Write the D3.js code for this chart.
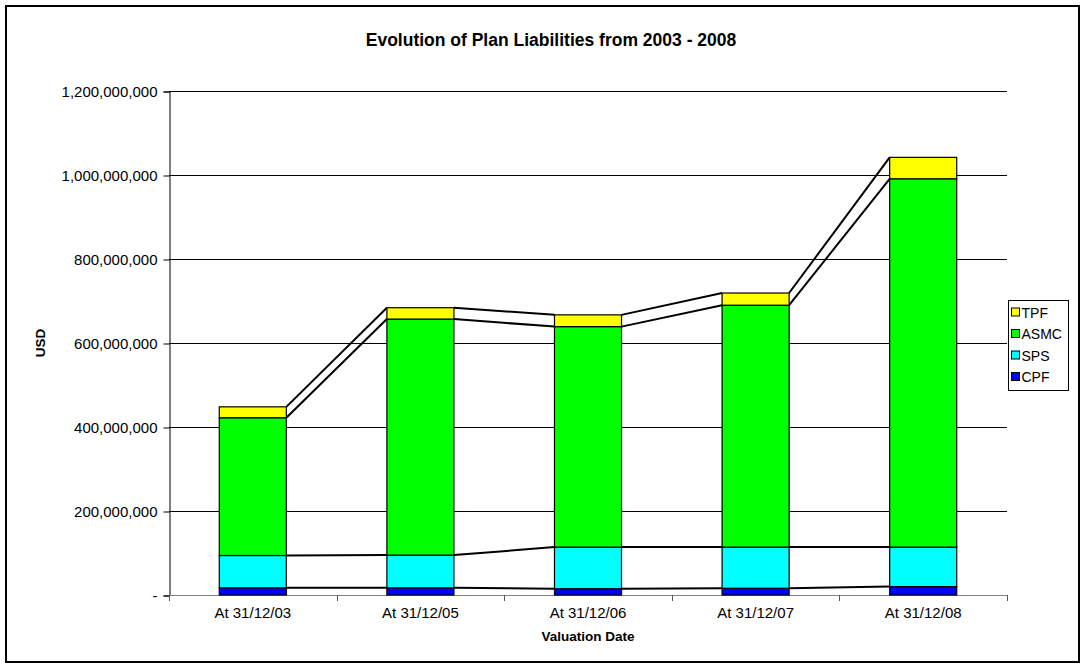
<!DOCTYPE html>
<html>
<head>
<meta charset="utf-8">
<script src="https://cdn.jsdelivr.net/npm/d3@7"></script>
<style>
body { margin: 0; background: #fff; }
text { font-family: 'Liberation Sans', Arial, sans-serif; }
</style>
</head>
<body>
<script>
// values in USD
var categories = ['At 31/12/03', 'At 31/12/05', 'At 31/12/06', 'At 31/12/07', 'At 31/12/08'];
var cpf  = [17e6, 17e6, 15e6, 16e6, 20e6];
var sps  = [77e6, 78e6, 99e6, 98e6, 94e6];
var asmc = [328e6, 562e6, 525e6, 576e6, 877e6];
var tpf  = [26e6, 27e6, 28e6, 29e6, 51e6];
var yTicks = [0, 200e6, 400e6, 600e6, 800e6, 1000e6, 1200e6];

var seriesNames = ['CPF', 'SPS', 'ASMC', 'TPF'];
var colors = {CPF: '#0000ff', SPS: '#00ffff', ASMC: '#00ff00', TPF: '#ffff00'};

var width = 1086, height = 670;
var plot = {left: 169, right: 1007, top: 91, bottom: 595};

var svg = d3.select('body').append('svg')
	.attr('width', width)
	.attr('height', height);

// outer frame
svg.append('rect')
	.attr('x', 6).attr('y', 6)
	.attr('width', 1073).attr('height', 656)
	.attr('fill', '#fff')
	.attr('stroke', '#000')
	.attr('stroke-width', 2);

var rows = categories.map((c, i) => ({key: c, CPF: cpf[i], SPS: sps[i], ASMC: asmc[i], TPF: tpf[i]}));
var stacked = d3.stack().keys(seriesNames)(rows);

var x = d3.scaleBand()
	.domain(categories)
	.range([plot.left, plot.right])
	.paddingInner(0.6)
	.paddingOuter(0.3);

var y = d3.scaleLinear()
	.domain([0, 1200e6])
	.range([plot.bottom, plot.top]);

// gridlines
svg.append('g')
	.selectAll('line')
	.data(yTicks.filter(d => d > 0))
	.enter().append('line')
	.attr('x1', plot.left).attr('x2', plot.right)
	.attr('y1', d => Math.round(y(d)) + 0.5)
	.attr('y2', d => Math.round(y(d)) + 0.5)
	.attr('stroke', '#000')
	.attr('stroke-width', 1);

// y axis
var yAxis = d3.axisLeft(y)
	.tickValues(yTicks)
	.tickSize(6)
	.tickPadding(6)
	.tickFormat(d => d === 0 ? '-' : d3.format(',')(d));

var gy = svg.append('g')
	.attr('transform', `translate(${plot.left + 0.5}, 0.5)`)
	.call(yAxis);
gy.select('.domain').attr('stroke', '#000');
gy.selectAll('.tick line').attr('stroke', '#000');
gy.selectAll('text')
	.attr('font-size', 15)
	.attr('fill', '#000')
	.style('font-family', "'Liberation Sans', Arial, sans-serif");

// x axis (labels only, ticks between categories)
var xAxis = d3.axisBottom(x).tickSize(0).tickPadding(12);
var gx = svg.append('g')
	.attr('transform', `translate(0, ${plot.bottom + 0.5})`)
	.call(xAxis);
gx.select('.domain').attr('stroke', '#808080').attr('d', `M${plot.left},0H${plot.right}`);
gx.selectAll('text')
	.attr('font-size', 15)
	.attr('fill', '#000')
	.style('font-family', "'Liberation Sans', Arial, sans-serif");

var step = x.step();
var bounds = categories.map(c => x(c) - step * 0.3).concat([plot.right]);
svg.append('g')
	.selectAll('line')
	.data(bounds)
	.enter().append('line')
	.attr('x1', d => Math.round(d) + 0.5).attr('x2', d => Math.round(d) + 0.5)
	.attr('y1', plot.bottom).attr('y2', plot.bottom + 6)
	.attr('stroke', '#555');

// series lines joining the stack levels
stacked.forEach(layer => {
	var segs = [];
	for (var i = 0; i < layer.length - 1; i++) {
		segs.push([[x(categories[i]) + x.bandwidth(), y(layer[i][1])], [x(categories[i + 1]), y(layer[i + 1][1])]]);
	}
	svg.append('g')
		.selectAll('path')
		.data(segs)
		.enter().append('path')
		.attr('d', d => d3.line()(d))
		.attr('fill', 'none')
		.attr('stroke', '#000')
		.attr('stroke-width', 2);
});

// bars
svg.append('g')
	.selectAll('g')
	.data(stacked)
	.enter().append('g')
	.attr('fill', d => colors[d.key])
	.selectAll('rect')
	.data(d => d)
	.enter().append('rect')
	.attr('x', d => x(d.data.key))
	.attr('y', d => y(d[1]))
	.attr('width', x.bandwidth())
	.attr('height', d => y(d[0]) - y(d[1]))
	.attr('stroke', '#000')
	.attr('stroke-width', 1.2);

// titles
svg.append('text')
	.attr('x', 551).attr('y', 46)
	.attr('text-anchor', 'middle')
	.attr('font-size', 17.5)
	.attr('font-weight', 'bold')
	.text('Evolution of Plan Liabilities from 2003 - 2008');

svg.append('text')
	.attr('x', (plot.left + plot.right) / 2).attr('y', 641)
	.attr('text-anchor', 'middle')
	.attr('font-size', 13.5)
	.attr('font-weight', 'bold')
	.text('Valuation Date');

svg.append('text')
	.attr('transform', `translate(45, ${(plot.top + plot.bottom) / 2}) rotate(-90)`)
	.attr('text-anchor', 'middle')
	.attr('font-size', 13.5)
	.attr('font-weight', 'bold')
	.text('USD');

// legend
var legend = svg.append('g').attr('transform', 'translate(1008.5, 300.5)');
legend.append('rect')
	.attr('width', 60).attr('height', 90)
	.attr('fill', '#fff')
	.attr('stroke', '#000');
var items = legend.selectAll('g.item')
	.data(seriesNames.slice().reverse())
	.enter().append('g')
	.attr('class', 'item')
	.attr('transform', (d, i) => `translate(3, ${12 + i * 21.5})`);
items.append('rect')
	.attr('x', 0).attr('y', -4.5)
	.attr('width', 8).attr('height', 8)
	.attr('fill', d => colors[d])
	.attr('stroke', '#000');
items.append('text')
	.attr('x', 10).attr('y', 5)
	.attr('font-size', 14)
	.text(d => d);
</script>
</body>
</html>
